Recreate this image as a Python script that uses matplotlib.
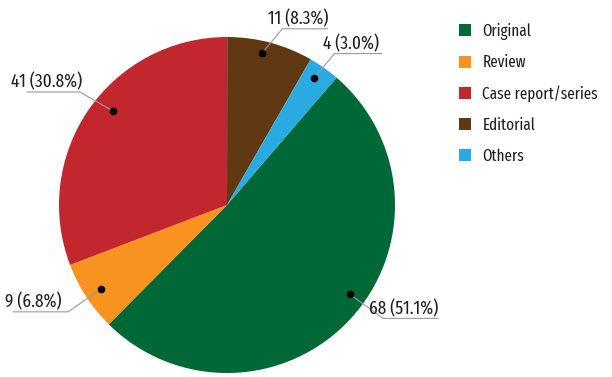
import numpy as np
import matplotlib
matplotlib.use("Agg")
import matplotlib.pyplot as plt
from matplotlib.patches import Patch

plt.rcParams['font.family'] = ['Fira Sans Extra Condensed', 'DejaVu Sans']

# data
categories = ['Original', 'Review', 'Case report/series', 'Editorial', 'Others']
counts = [68, 9, 41, 11, 4]
percents = [51.1, 6.8, 30.8, 8.3, 3.0]
colors = ['#006837', '#F7931E', '#C1272D', '#603913', '#29ABE2']

# label layout (image pixels): angle tweak, radius fraction, elbow offset, line length
ang_tweak = [6.7, 0.6, -4.9, 1.9, 0.8]
rad_frac = [0.905, 0.90, 0.88, 0.93, 0.92]
elbow = [(33, 24), (-33, 23), (-33, -19), (20, -24), (20, -24)]
line_len = [55, -55, -53, 45, 47]

W, H = 612, 377
fig = plt.figure(figsize=(W / 100, H / 100), dpi=100)
ax = fig.add_axes([0, 0, 1, 1])

cx, cy, R = 227, H - 205, 168
start = 90 - (percents[3] + percents[4]) / 100 * 360
wedges, _ = ax.pie(counts, colors=colors, startangle=start, counterclock=False,
                   center=(cx, cy), radius=R, frame=True,
                   wedgeprops=dict(linewidth=0))
ax.set_xlim(0, W)
ax.set_ylim(0, H)
ax.set_aspect('equal')
ax.axis('off')

for i, w in enumerate(wedges):
    mid = (w.theta1 + w.theta2) / 2 + ang_tweak[i]
    r = R * rad_frac[i]
    x0 = cx + r * np.cos(np.radians(mid))
    y0 = cy + r * np.sin(np.radians(mid))
    x1 = x0 + elbow[i][0]
    y1 = y0 - elbow[i][1]
    x2 = x1 + line_len[i]
    ax.plot([x0, x1, x2], [y0, y1, y1], color='#9a9a9a', lw=0.8, zorder=3)
    ax.plot(x0, y0, 'o', color='black', ms=4.5, zorder=4)
    ax.text((x1 + x2) / 2 - 7, y1 + 4.5, f'{counts[i]} ({percents[i]:.1f}%)',
            ha='center', va='baseline', fontsize=13.5, color='#231f20')

handles = [Patch(facecolor=c, edgecolor='none') for c in colors]
ax.legend(handles, categories, loc='upper left', bbox_to_anchor=(459 / W, 1 - 23 / H),
          frameon=False, handlelength=0.73, handleheight=0.73,
          handletextpad=0.7, labelspacing=0.9, borderaxespad=0, borderpad=0,
          prop=dict(size=11.8), labelcolor='#231f20')

fig.savefig('out.png', dpi=100)
